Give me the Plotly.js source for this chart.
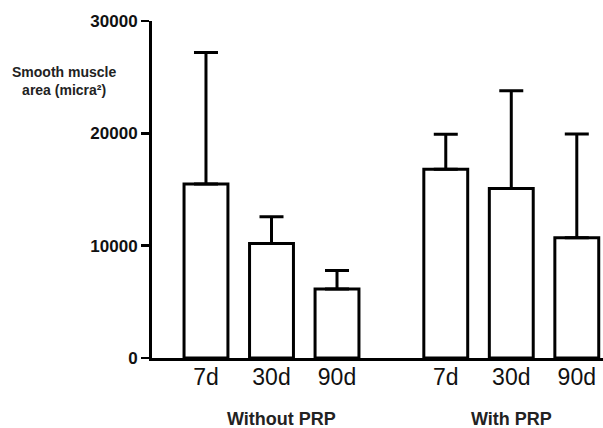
<!DOCTYPE html>
<html>
<head>
<meta charset="utf-8">
<script src="https://cdn.plot.ly/plotly-3.0.1.min.js"></script>
<style>html,body{margin:0;padding:0;background:#fff;}#chart{width:603px;height:428px;}</style>
</head>
<body>
<div id="chart"></div>
<script>
// Data
var groups = ['Without PRP', 'With PRP'];
var timepoints = ['7d', '30d', '90d'];
var meanWithout = [15500, 10200, 6150];
var meanWith = [16800, 15080, 10700];
var sdWithout = [11700, 2380, 1630];
var sdWith = [3120, 8720, 9250];
var yTicks = [0, 10000, 20000, 30000];

// Layout helpers (spacing only)
var groupStep = 3.66;
var xs = [], ys = [], errs = [], labels = [];
[[meanWithout, sdWithout], [meanWith, sdWith]].forEach(function (g, gi) {
  timepoints.forEach(function (t, i) {
    xs.push(gi * groupStep + i);
    ys.push(g[0][i]);
    errs.push(g[1][i]);
    labels.push(t);
  });
});

var trace = {
  type: 'bar',
  x: xs,
  y: ys,
  width: 0.67,
  marker: {color: '#ffffff', line: {color: '#000000', width: 3}},
  error_y: {type: 'data', symmetric: false, array: errs, arrayminus: errs.map(function () { return 0; }),
            color: '#000000', thickness: 3, width: 12},
  hoverinfo: 'none'
};

var sans = 'Liberation Sans, Arial, sans-serif';
var annotations = [
  {text: 'Smooth muscle<br>area (micra²)', xref: 'paper', yref: 'paper', x: 0, xshift: -88, y: 0.822,
   xanchor: 'center', yanchor: 'middle', showarrow: false, align: 'center', borderpad: 0,
   font: {family: sans, size: 14, color: '#222', weight: 700}}
];
groups.forEach(function (g, gi) {
  annotations.push({text: g, xref: 'x', yref: 'paper', x: gi * groupStep + 1, xshift: gi === 0 ? 10 : 0,
    y: -0.2077, yshift: -2, xanchor: 'center', yanchor: 'bottom', showarrow: false, borderpad: 0,
    font: {family: sans, size: 18, color: '#222', weight: 700}});
});

var layout = {
  width: 603, height: 428,
  margin: {l: 152, r: 0, t: 21, b: 70},
  paper_bgcolor: '#ffffff', plot_bgcolor: '#ffffff',
  showlegend: false,
  xaxis: {
    range: [-0.824, 6.06], showgrid: false, zeroline: false,
    showline: true, linecolor: '#000', linewidth: 3,
    tickmode: 'array', tickvals: xs, ticktext: labels, ticks: '',
    ticklabelstandoff: -4,
    tickfont: {family: sans, size: 23, color: '#111'}
  },
  yaxis: {
    range: [0, 30000], showgrid: false, zeroline: false,
    showline: true, linecolor: '#000', linewidth: 3,
    tickmode: 'array', tickvals: yTicks, ticktext: yTicks.map(String),
    ticks: 'outside', ticklen: 8, tickwidth: 2.5, tickcolor: '#000',
    tickfont: {family: sans, size: 17, color: '#111', weight: 700}
  },
  annotations: annotations
};

Plotly.newPlot('chart', [trace], layout, {displayModeBar: false, staticPlot: true});
</script>
</body>
</html>
